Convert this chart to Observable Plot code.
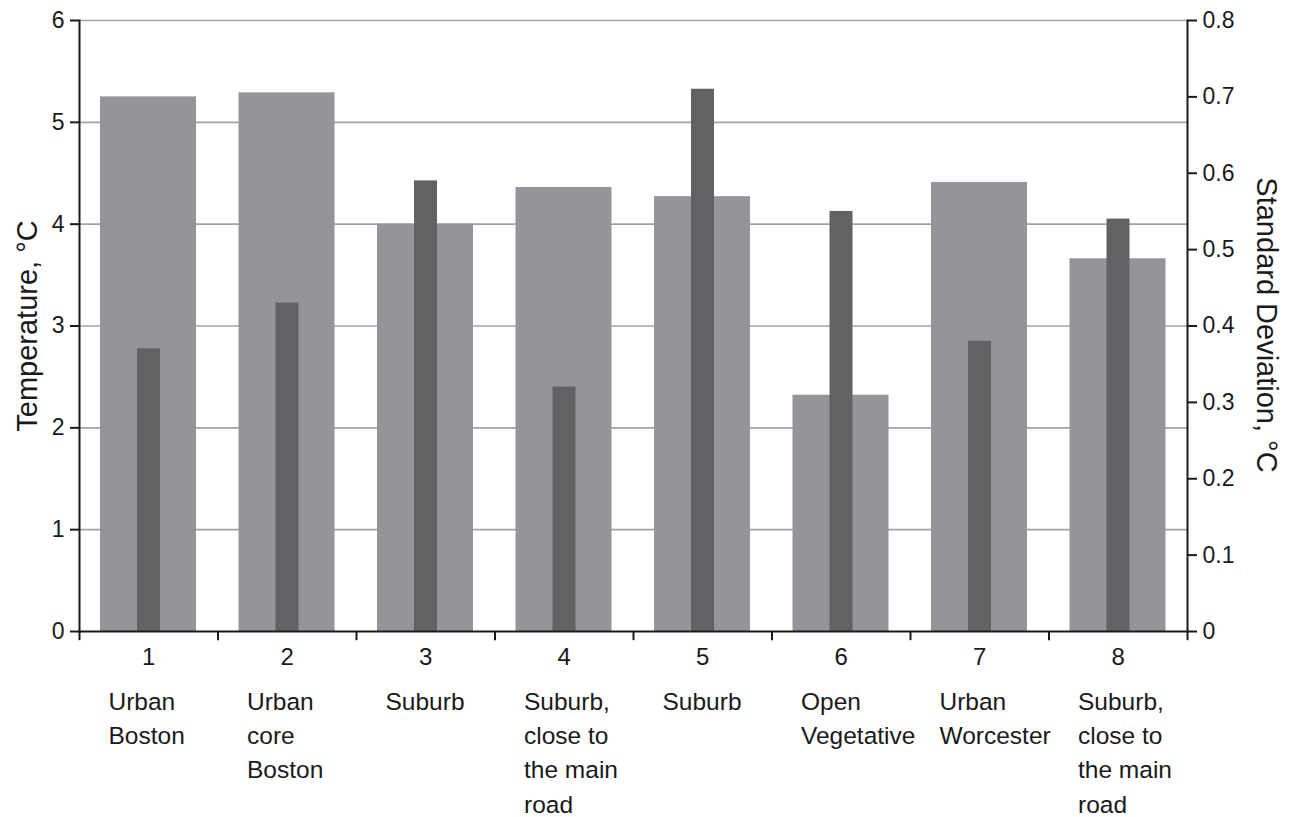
<!DOCTYPE html>
<html>
<head>
<meta charset="utf-8">
<script src="https://cdn.jsdelivr.net/npm/d3@7"></script>
<script src="https://cdn.jsdelivr.net/npm/@observablehq/plot@0.6"></script>
<style>
  html, body { margin: 0; padding: 0; background: #fff; }
  #chart svg { display: block; }
</style>
</head>
<body>
<div id="chart"></div>
<script>
const sites = [1, 2, 3, 4, 5, 6, 7, 8];
const siteNames = [
  "Urban\nBoston",
  "Urban\ncore\nBoston",
  "Suburb",
  "Suburb,\nclose to\nthe main\nroad",
  "Suburb",
  "Open\nVegetative",
  "Urban\nWorcester",
  "Suburb,\nclose to\nthe main\nroad"
];
const temperature = [5.25, 5.29, 4.00, 4.36, 4.27, 2.32, 4.41, 3.66];
const stdDev = [0.37, 0.43, 0.59, 0.32, 0.71, 0.55, 0.38, 0.54];
const leftTicks = [0, 1, 2, 3, 4, 5, 6];
const rightTicks = [0, 0.1, 0.2, 0.3, 0.4, 0.5, 0.6, 0.7, 0.8];
const gridTicks = [1, 2, 3, 4, 5, 6];
const leftTitle = "Temperature, °C";
const rightTitle = "Standard Deviation, °C";

const leftMax = 6, rightMax = 0.8;
const k = leftMax / rightMax; // map SD onto the left scale

const data = sites.map((s, i) => ({site: s, name: siteNames[i], temp: temperature[i], sd: stdDev[i]}));

const font = "'Liberation Sans', Arial, Helvetica, sans-serif";
const W = 1298, H = 817;
const mL = 79, mR = 111, mT = 20, mB = 186;
const half = (W - mL - mR) / sites.length / 2;
const ink = "#1a1a1a";

const chart = Plot.plot({
  width: W,
  height: H,
  marginLeft: mL,
  marginRight: mR,
  marginTop: mT,
  marginBottom: mB,
  style: {fontFamily: font, fontSize: "22px", color: ink, background: "#fff"},
  x: {type: "band", domain: sites, padding: 0, round: false, axis: null},
  y: {domain: [0, leftMax], axis: null},
  marks: [
    Plot.ruleY(gridTicks, {stroke: "#a3a3a3", strokeWidth: 1.6}),
    Plot.barY(data, {x: "site", y: "temp", fill: "#939598", insetLeft: 21, insetRight: 21.5}),
    Plot.barY(data, {x: "site", y: d => d.sd * k, fill: "#616264", insetLeft: 58, insetRight: 57.5}),
    Plot.axisY(leftTicks, {anchor: "left", tickSize: 9, tickPadding: 6, fontSize: 23, stroke: ink, strokeWidth: 2, label: null,
      tickFormat: d => String(d)}),
    Plot.axisY(rightTicks.map(v => v * k), {anchor: "right", tickSize: 9, tickPadding: 6, fontSize: 23, stroke: ink, strokeWidth: 2, label: null,
      tickFormat: d => { const v = d / k; return Math.abs(v) < 1e-9 ? "0" : v.toFixed(1); }}),
    Plot.frame({anchor: "left", stroke: ink, strokeWidth: 2}),
    Plot.frame({anchor: "right", stroke: ink, strokeWidth: 2}),
    Plot.frame({anchor: "bottom", stroke: ink, strokeWidth: 2}),
    // x axis band-boundary ticks (below the axis)
    Plot.ruleX(sites, {x: d => d, dx: -half, y1: 0, y2: -0.09, stroke: ink, strokeWidth: 2}),
    Plot.ruleX([sites[sites.length - 1]], {x: d => d, dx: half, y1: 0, y2: -0.09, stroke: ink, strokeWidth: 2}),
    // numbers
    Plot.text(sites, {x: d => d, text: d => String(d), frameAnchor: "bottom", dy: 33, fontSize: 24, fill: ink}),
    // category names
    Plot.text(data, {x: "site", text: "name", frameAnchor: "bottom", textAnchor: "start", lineAnchor: "top", dx: -half + 29, dy: 54, fontSize: 24.5, lineHeight: 1.4, fill: ink}),
    // axis titles
    Plot.text([leftTitle], {frameAnchor: "left", textAnchor: "middle", rotate: -90, dx: -52, dy: 0, fontSize: 29, fill: ink}),
    Plot.text([rightTitle], {frameAnchor: "right", textAnchor: "middle", rotate: 90, dx: 79, dy: -1, fontSize: 29, fill: ink})
  ]
});

document.getElementById("chart").appendChild(chart);
</script>
</body>
</html>
